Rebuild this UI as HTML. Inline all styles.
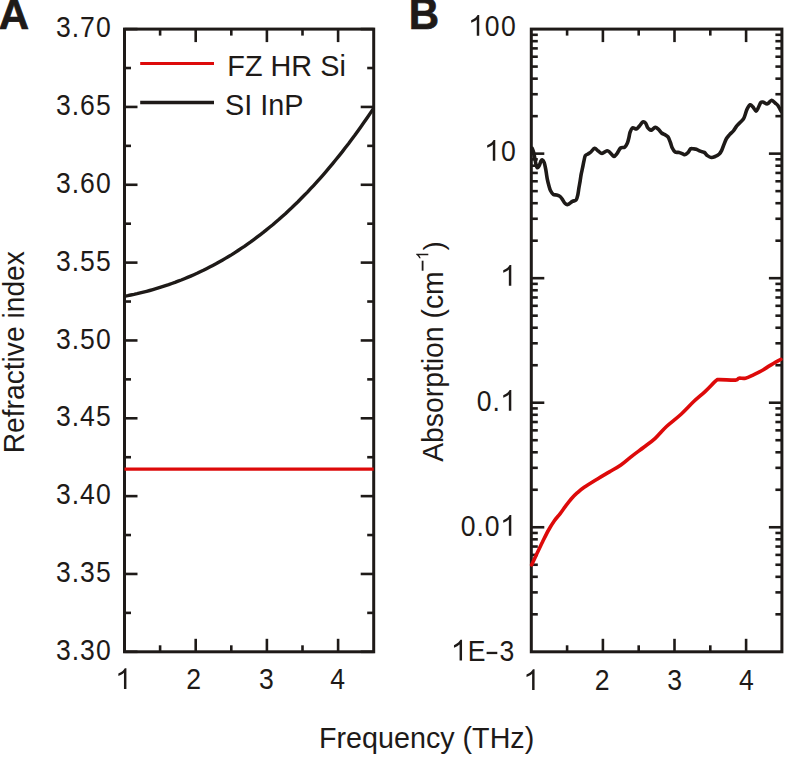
<!DOCTYPE html>
<html><head><meta charset="utf-8"><style>
html,body{margin:0;padding:0;background:#fff;overflow:hidden;}
svg{display:block;}
text{font-family:"Liberation Sans",sans-serif;fill:#1e1a18;}
.g{fill:#1e1a18;}
</style></head><body>
<svg width="785" height="757" viewBox="0 0 785 757">
<rect width="785" height="757" fill="#fff"/>
<g>
<line x1="124.50" y1="651.80" x2="137.50" y2="651.80" stroke="#1e1a18" stroke-width="2.6"/>
<line x1="373.70" y1="651.80" x2="360.70" y2="651.80" stroke="#1e1a18" stroke-width="2.6"/>
<line x1="124.50" y1="612.88" x2="131.00" y2="612.88" stroke="#1e1a18" stroke-width="2.6"/>
<line x1="373.70" y1="612.88" x2="367.20" y2="612.88" stroke="#1e1a18" stroke-width="2.6"/>
<line x1="124.50" y1="573.96" x2="137.50" y2="573.96" stroke="#1e1a18" stroke-width="2.6"/>
<line x1="373.70" y1="573.96" x2="360.70" y2="573.96" stroke="#1e1a18" stroke-width="2.6"/>
<line x1="124.50" y1="535.04" x2="131.00" y2="535.04" stroke="#1e1a18" stroke-width="2.6"/>
<line x1="373.70" y1="535.04" x2="367.20" y2="535.04" stroke="#1e1a18" stroke-width="2.6"/>
<line x1="124.50" y1="496.13" x2="137.50" y2="496.13" stroke="#1e1a18" stroke-width="2.6"/>
<line x1="373.70" y1="496.13" x2="360.70" y2="496.13" stroke="#1e1a18" stroke-width="2.6"/>
<line x1="124.50" y1="457.21" x2="131.00" y2="457.21" stroke="#1e1a18" stroke-width="2.6"/>
<line x1="373.70" y1="457.21" x2="367.20" y2="457.21" stroke="#1e1a18" stroke-width="2.6"/>
<line x1="124.50" y1="418.29" x2="137.50" y2="418.29" stroke="#1e1a18" stroke-width="2.6"/>
<line x1="373.70" y1="418.29" x2="360.70" y2="418.29" stroke="#1e1a18" stroke-width="2.6"/>
<line x1="124.50" y1="379.37" x2="131.00" y2="379.37" stroke="#1e1a18" stroke-width="2.6"/>
<line x1="373.70" y1="379.37" x2="367.20" y2="379.37" stroke="#1e1a18" stroke-width="2.6"/>
<line x1="124.50" y1="340.45" x2="137.50" y2="340.45" stroke="#1e1a18" stroke-width="2.6"/>
<line x1="373.70" y1="340.45" x2="360.70" y2="340.45" stroke="#1e1a18" stroke-width="2.6"/>
<line x1="124.50" y1="301.53" x2="131.00" y2="301.53" stroke="#1e1a18" stroke-width="2.6"/>
<line x1="373.70" y1="301.53" x2="367.20" y2="301.53" stroke="#1e1a18" stroke-width="2.6"/>
<line x1="124.50" y1="262.61" x2="137.50" y2="262.61" stroke="#1e1a18" stroke-width="2.6"/>
<line x1="373.70" y1="262.61" x2="360.70" y2="262.61" stroke="#1e1a18" stroke-width="2.6"/>
<line x1="124.50" y1="223.69" x2="131.00" y2="223.69" stroke="#1e1a18" stroke-width="2.6"/>
<line x1="373.70" y1="223.69" x2="367.20" y2="223.69" stroke="#1e1a18" stroke-width="2.6"/>
<line x1="124.50" y1="184.78" x2="137.50" y2="184.78" stroke="#1e1a18" stroke-width="2.6"/>
<line x1="373.70" y1="184.78" x2="360.70" y2="184.78" stroke="#1e1a18" stroke-width="2.6"/>
<line x1="124.50" y1="145.86" x2="131.00" y2="145.86" stroke="#1e1a18" stroke-width="2.6"/>
<line x1="373.70" y1="145.86" x2="367.20" y2="145.86" stroke="#1e1a18" stroke-width="2.6"/>
<line x1="124.50" y1="106.94" x2="137.50" y2="106.94" stroke="#1e1a18" stroke-width="2.6"/>
<line x1="373.70" y1="106.94" x2="360.70" y2="106.94" stroke="#1e1a18" stroke-width="2.6"/>
<line x1="124.50" y1="68.02" x2="131.00" y2="68.02" stroke="#1e1a18" stroke-width="2.6"/>
<line x1="373.70" y1="68.02" x2="367.20" y2="68.02" stroke="#1e1a18" stroke-width="2.6"/>
<line x1="124.50" y1="29.10" x2="137.50" y2="29.10" stroke="#1e1a18" stroke-width="2.6"/>
<line x1="373.70" y1="29.10" x2="360.70" y2="29.10" stroke="#1e1a18" stroke-width="2.6"/>
<line x1="160.10" y1="651.80" x2="160.10" y2="645.30" stroke="#1e1a18" stroke-width="2.6"/>
<line x1="160.10" y1="29.10" x2="160.10" y2="35.60" stroke="#1e1a18" stroke-width="2.6"/>
<line x1="195.70" y1="651.80" x2="195.70" y2="638.80" stroke="#1e1a18" stroke-width="2.6"/>
<line x1="195.70" y1="29.10" x2="195.70" y2="42.10" stroke="#1e1a18" stroke-width="2.6"/>
<line x1="231.30" y1="651.80" x2="231.30" y2="645.30" stroke="#1e1a18" stroke-width="2.6"/>
<line x1="231.30" y1="29.10" x2="231.30" y2="35.60" stroke="#1e1a18" stroke-width="2.6"/>
<line x1="266.90" y1="651.80" x2="266.90" y2="638.80" stroke="#1e1a18" stroke-width="2.6"/>
<line x1="266.90" y1="29.10" x2="266.90" y2="42.10" stroke="#1e1a18" stroke-width="2.6"/>
<line x1="302.50" y1="651.80" x2="302.50" y2="645.30" stroke="#1e1a18" stroke-width="2.6"/>
<line x1="302.50" y1="29.10" x2="302.50" y2="35.60" stroke="#1e1a18" stroke-width="2.6"/>
<line x1="338.10" y1="651.80" x2="338.10" y2="638.80" stroke="#1e1a18" stroke-width="2.6"/>
<line x1="338.10" y1="29.10" x2="338.10" y2="42.10" stroke="#1e1a18" stroke-width="2.6"/>
<line x1="531.30" y1="614.31" x2="537.80" y2="614.31" stroke="#1e1a18" stroke-width="2.6"/>
<line x1="781.90" y1="614.31" x2="775.40" y2="614.31" stroke="#1e1a18" stroke-width="2.6"/>
<line x1="531.30" y1="592.38" x2="537.80" y2="592.38" stroke="#1e1a18" stroke-width="2.6"/>
<line x1="781.90" y1="592.38" x2="775.40" y2="592.38" stroke="#1e1a18" stroke-width="2.6"/>
<line x1="531.30" y1="576.82" x2="537.80" y2="576.82" stroke="#1e1a18" stroke-width="2.6"/>
<line x1="781.90" y1="576.82" x2="775.40" y2="576.82" stroke="#1e1a18" stroke-width="2.6"/>
<line x1="531.30" y1="564.75" x2="537.80" y2="564.75" stroke="#1e1a18" stroke-width="2.6"/>
<line x1="781.90" y1="564.75" x2="775.40" y2="564.75" stroke="#1e1a18" stroke-width="2.6"/>
<line x1="531.30" y1="554.89" x2="537.80" y2="554.89" stroke="#1e1a18" stroke-width="2.6"/>
<line x1="781.90" y1="554.89" x2="775.40" y2="554.89" stroke="#1e1a18" stroke-width="2.6"/>
<line x1="531.30" y1="546.55" x2="537.80" y2="546.55" stroke="#1e1a18" stroke-width="2.6"/>
<line x1="781.90" y1="546.55" x2="775.40" y2="546.55" stroke="#1e1a18" stroke-width="2.6"/>
<line x1="531.30" y1="539.33" x2="537.80" y2="539.33" stroke="#1e1a18" stroke-width="2.6"/>
<line x1="781.90" y1="539.33" x2="775.40" y2="539.33" stroke="#1e1a18" stroke-width="2.6"/>
<line x1="531.30" y1="532.96" x2="537.80" y2="532.96" stroke="#1e1a18" stroke-width="2.6"/>
<line x1="781.90" y1="532.96" x2="775.40" y2="532.96" stroke="#1e1a18" stroke-width="2.6"/>
<line x1="531.30" y1="527.26" x2="544.30" y2="527.26" stroke="#1e1a18" stroke-width="2.6"/>
<line x1="781.90" y1="527.26" x2="768.90" y2="527.26" stroke="#1e1a18" stroke-width="2.6"/>
<line x1="531.30" y1="489.77" x2="537.80" y2="489.77" stroke="#1e1a18" stroke-width="2.6"/>
<line x1="781.90" y1="489.77" x2="775.40" y2="489.77" stroke="#1e1a18" stroke-width="2.6"/>
<line x1="531.30" y1="467.84" x2="537.80" y2="467.84" stroke="#1e1a18" stroke-width="2.6"/>
<line x1="781.90" y1="467.84" x2="775.40" y2="467.84" stroke="#1e1a18" stroke-width="2.6"/>
<line x1="531.30" y1="452.28" x2="537.80" y2="452.28" stroke="#1e1a18" stroke-width="2.6"/>
<line x1="781.90" y1="452.28" x2="775.40" y2="452.28" stroke="#1e1a18" stroke-width="2.6"/>
<line x1="531.30" y1="440.21" x2="537.80" y2="440.21" stroke="#1e1a18" stroke-width="2.6"/>
<line x1="781.90" y1="440.21" x2="775.40" y2="440.21" stroke="#1e1a18" stroke-width="2.6"/>
<line x1="531.30" y1="430.35" x2="537.80" y2="430.35" stroke="#1e1a18" stroke-width="2.6"/>
<line x1="781.90" y1="430.35" x2="775.40" y2="430.35" stroke="#1e1a18" stroke-width="2.6"/>
<line x1="531.30" y1="422.01" x2="537.80" y2="422.01" stroke="#1e1a18" stroke-width="2.6"/>
<line x1="781.90" y1="422.01" x2="775.40" y2="422.01" stroke="#1e1a18" stroke-width="2.6"/>
<line x1="531.30" y1="414.79" x2="537.80" y2="414.79" stroke="#1e1a18" stroke-width="2.6"/>
<line x1="781.90" y1="414.79" x2="775.40" y2="414.79" stroke="#1e1a18" stroke-width="2.6"/>
<line x1="531.30" y1="408.42" x2="537.80" y2="408.42" stroke="#1e1a18" stroke-width="2.6"/>
<line x1="781.90" y1="408.42" x2="775.40" y2="408.42" stroke="#1e1a18" stroke-width="2.6"/>
<line x1="531.30" y1="402.72" x2="544.30" y2="402.72" stroke="#1e1a18" stroke-width="2.6"/>
<line x1="781.90" y1="402.72" x2="768.90" y2="402.72" stroke="#1e1a18" stroke-width="2.6"/>
<line x1="531.30" y1="365.23" x2="537.80" y2="365.23" stroke="#1e1a18" stroke-width="2.6"/>
<line x1="781.90" y1="365.23" x2="775.40" y2="365.23" stroke="#1e1a18" stroke-width="2.6"/>
<line x1="531.30" y1="343.30" x2="537.80" y2="343.30" stroke="#1e1a18" stroke-width="2.6"/>
<line x1="781.90" y1="343.30" x2="775.40" y2="343.30" stroke="#1e1a18" stroke-width="2.6"/>
<line x1="531.30" y1="327.74" x2="537.80" y2="327.74" stroke="#1e1a18" stroke-width="2.6"/>
<line x1="781.90" y1="327.74" x2="775.40" y2="327.74" stroke="#1e1a18" stroke-width="2.6"/>
<line x1="531.30" y1="315.67" x2="537.80" y2="315.67" stroke="#1e1a18" stroke-width="2.6"/>
<line x1="781.90" y1="315.67" x2="775.40" y2="315.67" stroke="#1e1a18" stroke-width="2.6"/>
<line x1="531.30" y1="305.81" x2="537.80" y2="305.81" stroke="#1e1a18" stroke-width="2.6"/>
<line x1="781.90" y1="305.81" x2="775.40" y2="305.81" stroke="#1e1a18" stroke-width="2.6"/>
<line x1="531.30" y1="297.47" x2="537.80" y2="297.47" stroke="#1e1a18" stroke-width="2.6"/>
<line x1="781.90" y1="297.47" x2="775.40" y2="297.47" stroke="#1e1a18" stroke-width="2.6"/>
<line x1="531.30" y1="290.25" x2="537.80" y2="290.25" stroke="#1e1a18" stroke-width="2.6"/>
<line x1="781.90" y1="290.25" x2="775.40" y2="290.25" stroke="#1e1a18" stroke-width="2.6"/>
<line x1="531.30" y1="283.88" x2="537.80" y2="283.88" stroke="#1e1a18" stroke-width="2.6"/>
<line x1="781.90" y1="283.88" x2="775.40" y2="283.88" stroke="#1e1a18" stroke-width="2.6"/>
<line x1="531.30" y1="278.18" x2="544.30" y2="278.18" stroke="#1e1a18" stroke-width="2.6"/>
<line x1="781.90" y1="278.18" x2="768.90" y2="278.18" stroke="#1e1a18" stroke-width="2.6"/>
<line x1="531.30" y1="240.69" x2="537.80" y2="240.69" stroke="#1e1a18" stroke-width="2.6"/>
<line x1="781.90" y1="240.69" x2="775.40" y2="240.69" stroke="#1e1a18" stroke-width="2.6"/>
<line x1="531.30" y1="218.76" x2="537.80" y2="218.76" stroke="#1e1a18" stroke-width="2.6"/>
<line x1="781.90" y1="218.76" x2="775.40" y2="218.76" stroke="#1e1a18" stroke-width="2.6"/>
<line x1="531.30" y1="203.20" x2="537.80" y2="203.20" stroke="#1e1a18" stroke-width="2.6"/>
<line x1="781.90" y1="203.20" x2="775.40" y2="203.20" stroke="#1e1a18" stroke-width="2.6"/>
<line x1="531.30" y1="191.13" x2="537.80" y2="191.13" stroke="#1e1a18" stroke-width="2.6"/>
<line x1="781.90" y1="191.13" x2="775.40" y2="191.13" stroke="#1e1a18" stroke-width="2.6"/>
<line x1="531.30" y1="181.27" x2="537.80" y2="181.27" stroke="#1e1a18" stroke-width="2.6"/>
<line x1="781.90" y1="181.27" x2="775.40" y2="181.27" stroke="#1e1a18" stroke-width="2.6"/>
<line x1="531.30" y1="172.93" x2="537.80" y2="172.93" stroke="#1e1a18" stroke-width="2.6"/>
<line x1="781.90" y1="172.93" x2="775.40" y2="172.93" stroke="#1e1a18" stroke-width="2.6"/>
<line x1="531.30" y1="165.71" x2="537.80" y2="165.71" stroke="#1e1a18" stroke-width="2.6"/>
<line x1="781.90" y1="165.71" x2="775.40" y2="165.71" stroke="#1e1a18" stroke-width="2.6"/>
<line x1="531.30" y1="159.34" x2="537.80" y2="159.34" stroke="#1e1a18" stroke-width="2.6"/>
<line x1="781.90" y1="159.34" x2="775.40" y2="159.34" stroke="#1e1a18" stroke-width="2.6"/>
<line x1="531.30" y1="153.64" x2="544.30" y2="153.64" stroke="#1e1a18" stroke-width="2.6"/>
<line x1="781.90" y1="153.64" x2="768.90" y2="153.64" stroke="#1e1a18" stroke-width="2.6"/>
<line x1="531.30" y1="116.15" x2="537.80" y2="116.15" stroke="#1e1a18" stroke-width="2.6"/>
<line x1="781.90" y1="116.15" x2="775.40" y2="116.15" stroke="#1e1a18" stroke-width="2.6"/>
<line x1="531.30" y1="94.22" x2="537.80" y2="94.22" stroke="#1e1a18" stroke-width="2.6"/>
<line x1="781.90" y1="94.22" x2="775.40" y2="94.22" stroke="#1e1a18" stroke-width="2.6"/>
<line x1="531.30" y1="78.66" x2="537.80" y2="78.66" stroke="#1e1a18" stroke-width="2.6"/>
<line x1="781.90" y1="78.66" x2="775.40" y2="78.66" stroke="#1e1a18" stroke-width="2.6"/>
<line x1="531.30" y1="66.59" x2="537.80" y2="66.59" stroke="#1e1a18" stroke-width="2.6"/>
<line x1="781.90" y1="66.59" x2="775.40" y2="66.59" stroke="#1e1a18" stroke-width="2.6"/>
<line x1="531.30" y1="56.73" x2="537.80" y2="56.73" stroke="#1e1a18" stroke-width="2.6"/>
<line x1="781.90" y1="56.73" x2="775.40" y2="56.73" stroke="#1e1a18" stroke-width="2.6"/>
<line x1="531.30" y1="48.39" x2="537.80" y2="48.39" stroke="#1e1a18" stroke-width="2.6"/>
<line x1="781.90" y1="48.39" x2="775.40" y2="48.39" stroke="#1e1a18" stroke-width="2.6"/>
<line x1="531.30" y1="41.17" x2="537.80" y2="41.17" stroke="#1e1a18" stroke-width="2.6"/>
<line x1="781.90" y1="41.17" x2="775.40" y2="41.17" stroke="#1e1a18" stroke-width="2.6"/>
<line x1="531.30" y1="34.80" x2="537.80" y2="34.80" stroke="#1e1a18" stroke-width="2.6"/>
<line x1="781.90" y1="34.80" x2="775.40" y2="34.80" stroke="#1e1a18" stroke-width="2.6"/>
<line x1="567.10" y1="651.80" x2="567.10" y2="645.30" stroke="#1e1a18" stroke-width="2.6"/>
<line x1="567.10" y1="29.10" x2="567.10" y2="35.60" stroke="#1e1a18" stroke-width="2.6"/>
<line x1="602.90" y1="651.80" x2="602.90" y2="638.80" stroke="#1e1a18" stroke-width="2.6"/>
<line x1="602.90" y1="29.10" x2="602.90" y2="42.10" stroke="#1e1a18" stroke-width="2.6"/>
<line x1="638.70" y1="651.80" x2="638.70" y2="645.30" stroke="#1e1a18" stroke-width="2.6"/>
<line x1="638.70" y1="29.10" x2="638.70" y2="35.60" stroke="#1e1a18" stroke-width="2.6"/>
<line x1="674.50" y1="651.80" x2="674.50" y2="638.80" stroke="#1e1a18" stroke-width="2.6"/>
<line x1="674.50" y1="29.10" x2="674.50" y2="42.10" stroke="#1e1a18" stroke-width="2.6"/>
<line x1="710.30" y1="651.80" x2="710.30" y2="645.30" stroke="#1e1a18" stroke-width="2.6"/>
<line x1="710.30" y1="29.10" x2="710.30" y2="35.60" stroke="#1e1a18" stroke-width="2.6"/>
<line x1="746.10" y1="651.80" x2="746.10" y2="638.80" stroke="#1e1a18" stroke-width="2.6"/>
<line x1="746.10" y1="29.10" x2="746.10" y2="42.10" stroke="#1e1a18" stroke-width="2.6"/>
</g>
<rect x="124.5" y="29.1" width="249.20" height="622.70" fill="none" stroke="#1e1a18" stroke-width="3.0"/>
<rect x="531.3" y="29.1" width="250.60" height="622.70" fill="none" stroke="#1e1a18" stroke-width="3.0"/>
<line x1="124.5" y1="469.1" x2="373.7" y2="469.1" stroke="#dd0a0a" stroke-width="3.4"/>
<polyline points="124.5,296.3 127.7,295.7 130.8,295.0 134.0,294.4 137.1,293.7 140.3,292.9 143.4,292.1 146.6,291.3 149.7,290.5 152.9,289.6 156.0,288.7 159.2,287.7 162.4,286.7 165.5,285.7 168.7,284.7 171.8,283.5 175.0,282.4 178.1,281.2 181.3,280.0 184.4,278.7 187.6,277.4 190.7,276.1 193.9,274.7 197.1,273.3 200.2,271.8 203.4,270.3 206.5,268.7 209.7,267.1 212.8,265.5 216.0,263.8 219.1,262.0 222.3,260.2 225.4,258.4 228.6,256.5 231.8,254.6 234.9,252.6 238.1,250.5 241.2,248.4 244.4,246.3 247.5,244.1 250.7,241.9 253.8,239.6 257.0,237.2 260.1,234.8 263.3,232.4 266.4,229.9 269.6,227.3 272.8,224.7 275.9,222.0 279.1,219.3 282.2,216.5 285.4,213.7 288.5,210.7 291.7,207.8 294.8,204.8 298.0,201.7 301.1,198.5 304.3,195.3 307.5,192.1 310.6,188.7 313.8,185.3 316.9,181.9 320.1,178.3 323.2,174.8 326.4,171.1 329.5,167.4 332.7,163.6 335.8,159.8 339.0,155.9 342.2,151.9 345.3,147.8 348.5,143.7 351.6,139.5 354.8,135.3 357.9,130.9 361.1,126.5 364.2,122.1 367.4,117.5 370.5,112.9 373.7,108.2" fill="none" stroke="#1e1a18" stroke-width="3.4" stroke-linejoin="round"/>
<path d="M532.20,148.30 C532.42,148.92 533.05,150.30 533.50,152.00 C533.95,153.70 534.50,156.50 534.90,158.50 C535.30,160.50 535.52,162.47 535.90,164.00 C536.28,165.53 536.67,167.38 537.20,167.70 C537.73,168.02 538.48,166.98 539.10,165.90 C539.72,164.82 540.37,162.20 540.90,161.20 C541.43,160.20 541.75,159.67 542.30,159.90 C542.85,160.13 543.65,161.15 544.20,162.60 C544.75,164.05 545.22,166.67 545.60,168.60 C545.98,170.53 546.20,172.35 546.50,174.20 C546.80,176.05 547.02,177.85 547.40,179.70 C547.78,181.55 548.27,183.45 548.80,185.30 C549.33,187.15 549.83,189.27 550.60,190.80 C551.37,192.33 552.40,193.80 553.40,194.50 C554.40,195.20 555.52,194.68 556.60,195.00 C557.68,195.32 558.97,195.72 559.90,196.40 C560.83,197.08 561.35,197.95 562.20,199.10 C563.05,200.25 564.08,202.38 565.00,203.30 C565.92,204.22 566.47,204.92 567.70,204.60 C568.93,204.28 571.00,202.17 572.40,201.40 C573.80,200.63 575.18,201.15 576.10,200.00 C577.02,198.85 577.43,196.50 577.90,194.50 C578.37,192.50 578.52,190.32 578.90,188.00 C579.28,185.68 579.82,182.90 580.20,180.60 C580.58,178.30 580.80,176.35 581.20,174.20 C581.60,172.05 582.15,169.87 582.60,167.70 C583.05,165.53 583.45,163.20 583.90,161.20 C584.35,159.20 584.60,156.92 585.30,155.70 C586.00,154.48 587.17,154.52 588.10,153.90 C589.03,153.28 589.82,152.93 590.90,152.00 C591.98,151.07 593.37,148.45 594.60,148.30 C595.83,148.15 597.07,150.25 598.30,151.10 C599.53,151.95 600.53,153.45 602.00,153.40 C603.47,153.35 605.72,150.90 607.10,150.80 C608.48,150.70 609.17,151.87 610.30,152.80 C611.43,153.73 612.78,156.27 613.90,156.40 C615.02,156.53 615.88,155.00 617.00,153.60 C618.12,152.20 619.33,149.07 620.60,148.00 C621.87,146.93 623.48,147.98 624.60,147.20 C625.72,146.42 626.58,144.88 627.30,143.30 C628.02,141.72 628.43,139.55 628.90,137.70 C629.37,135.85 629.50,133.85 630.10,132.20 C630.70,130.55 631.43,128.33 632.50,127.80 C633.57,127.27 635.32,129.33 636.50,129.00 C637.68,128.67 638.55,126.98 639.60,125.80 C640.65,124.62 641.80,122.35 642.80,121.90 C643.80,121.45 644.82,122.18 645.60,123.10 C646.38,124.02 646.93,126.42 647.50,127.40 C648.07,128.38 648.37,128.53 649.00,129.00 C649.63,129.47 650.25,130.47 651.30,130.20 C652.35,129.93 654.10,127.53 655.30,127.40 C656.50,127.27 657.45,128.47 658.50,129.40 C659.55,130.33 660.55,132.13 661.60,133.00 C662.65,133.87 663.73,133.95 664.80,134.60 C665.87,135.25 667.07,135.58 668.00,136.90 C668.93,138.22 669.68,140.65 670.40,142.50 C671.12,144.35 671.52,146.42 672.30,148.00 C673.08,149.58 673.97,151.27 675.10,152.00 C676.23,152.73 677.92,152.13 679.10,152.40 C680.28,152.67 681.28,153.20 682.20,153.60 C683.12,154.00 683.67,154.93 684.60,154.80 C685.53,154.67 686.80,153.80 687.80,152.80 C688.80,151.80 689.70,149.47 690.60,148.80 C691.50,148.13 692.25,148.73 693.20,148.80 C694.15,148.87 695.12,148.80 696.30,149.20 C697.48,149.60 698.97,150.67 700.30,151.20 C701.63,151.73 703.12,151.67 704.30,152.40 C705.48,153.13 706.22,154.75 707.40,155.60 C708.58,156.45 710.07,157.37 711.40,157.50 C712.73,157.63 714.08,156.98 715.40,156.40 C716.72,155.82 718.25,155.00 719.30,154.00 C720.35,153.00 720.90,152.05 721.70,150.40 C722.50,148.75 723.30,146.08 724.10,144.10 C724.90,142.12 725.58,140.08 726.50,138.50 C727.42,136.92 728.42,135.92 729.60,134.60 C730.78,133.28 732.40,132.07 733.60,130.60 C734.80,129.13 735.58,127.28 736.80,125.80 C738.02,124.32 739.77,122.88 740.90,121.70 C742.03,120.52 742.82,120.08 743.60,118.70 C744.38,117.32 745.00,115.05 745.60,113.40 C746.20,111.75 746.43,110.23 747.20,108.80 C747.97,107.37 749.27,105.13 750.20,104.80 C751.13,104.47 751.82,105.75 752.80,106.80 C753.78,107.85 755.17,110.98 756.10,111.10 C757.03,111.22 757.62,108.93 758.40,107.50 C759.18,106.07 759.97,103.38 760.80,102.50 C761.63,101.62 762.30,101.98 763.40,102.20 C764.50,102.42 766.02,104.13 767.40,103.80 C768.78,103.47 770.38,100.30 771.70,100.20 C773.02,100.10 774.27,102.32 775.30,103.20 C776.33,104.08 776.92,104.13 777.90,105.50 C778.88,106.87 780.65,110.42 781.20,111.40" fill="none" stroke="#1e1a18" stroke-width="3.6" stroke-linejoin="round" stroke-linecap="round"/>
<path d="M531.60,564.90 C532.42,563.17 534.68,558.32 536.50,554.50 C538.32,550.68 540.53,546.00 542.50,542.00 C544.47,538.00 546.35,534.00 548.30,530.50 C550.25,527.00 552.25,523.78 554.20,521.00 C556.15,518.22 558.07,516.33 560.00,513.80 C561.93,511.27 563.87,508.35 565.80,505.80 C567.73,503.25 569.67,500.68 571.60,498.50 C573.53,496.32 575.30,494.57 577.40,492.70 C579.50,490.83 580.78,489.63 584.20,487.30 C587.62,484.97 593.70,481.27 597.90,478.70 C602.10,476.13 605.57,474.18 609.40,471.90 C613.23,469.62 617.08,467.68 620.90,465.00 C624.72,462.32 628.48,458.77 632.30,455.80 C636.12,452.83 639.98,450.12 643.80,447.20 C647.62,444.28 651.42,441.75 655.20,438.30 C658.98,434.85 662.33,430.38 666.50,426.50 C670.67,422.62 675.62,419.20 680.20,415.00 C684.78,410.80 689.82,405.23 694.00,401.30 C698.18,397.37 701.63,394.83 705.30,391.40 C708.97,387.97 713.67,382.67 716.00,380.70 C718.33,378.73 716.05,379.70 719.30,379.60 C722.55,379.50 732.22,380.33 735.50,380.10 C738.78,379.87 737.33,378.52 739.00,378.20 C740.67,377.88 743.02,378.80 745.50,378.20 C747.98,377.60 751.13,375.88 753.90,374.60 C756.67,373.32 759.38,372.03 762.10,370.50 C764.82,368.97 767.07,367.27 770.20,365.40 C773.33,363.53 779.12,360.32 780.90,359.30" fill="none" stroke="#dd0a0a" stroke-width="3.6" stroke-linejoin="round" stroke-linecap="round"/>
<line x1="140.2" y1="63.5" x2="214" y2="63.5" stroke="#dd0a0a" stroke-width="3.2"/>
<line x1="140.2" y1="102.5" x2="214" y2="102.5" stroke="#1e1a18" stroke-width="3.4"/>
<text transform="translate(63.29,37.20) scale(0.95,1.08)" font-size="28" text-anchor="middle">3</text>
<text transform="translate(75.32,37.20) scale(0.95,1.08)" font-size="28" text-anchor="middle">.</text>
<text transform="translate(87.35,37.20) scale(0.95,1.08)" font-size="28" text-anchor="middle">7</text>
<text transform="translate(103.38,37.20) scale(0.95,1.08)" font-size="28" text-anchor="middle">0</text>
<text transform="translate(63.29,115.05) scale(0.95,1.08)" font-size="28" text-anchor="middle">3</text>
<text transform="translate(75.32,115.05) scale(0.95,1.08)" font-size="28" text-anchor="middle">.</text>
<text transform="translate(87.35,115.05) scale(0.95,1.08)" font-size="28" text-anchor="middle">6</text>
<text transform="translate(103.38,115.05) scale(0.95,1.08)" font-size="28" text-anchor="middle">5</text>
<text transform="translate(63.29,192.90) scale(0.95,1.08)" font-size="28" text-anchor="middle">3</text>
<text transform="translate(75.32,192.90) scale(0.95,1.08)" font-size="28" text-anchor="middle">.</text>
<text transform="translate(87.35,192.90) scale(0.95,1.08)" font-size="28" text-anchor="middle">6</text>
<text transform="translate(103.38,192.90) scale(0.95,1.08)" font-size="28" text-anchor="middle">0</text>
<text transform="translate(63.29,270.75) scale(0.95,1.08)" font-size="28" text-anchor="middle">3</text>
<text transform="translate(75.32,270.75) scale(0.95,1.08)" font-size="28" text-anchor="middle">.</text>
<text transform="translate(87.35,270.75) scale(0.95,1.08)" font-size="28" text-anchor="middle">5</text>
<text transform="translate(103.38,270.75) scale(0.95,1.08)" font-size="28" text-anchor="middle">5</text>
<text transform="translate(63.29,348.60) scale(0.95,1.08)" font-size="28" text-anchor="middle">3</text>
<text transform="translate(75.32,348.60) scale(0.95,1.08)" font-size="28" text-anchor="middle">.</text>
<text transform="translate(87.35,348.60) scale(0.95,1.08)" font-size="28" text-anchor="middle">5</text>
<text transform="translate(103.38,348.60) scale(0.95,1.08)" font-size="28" text-anchor="middle">0</text>
<text transform="translate(63.29,426.45) scale(0.95,1.08)" font-size="28" text-anchor="middle">3</text>
<text transform="translate(75.32,426.45) scale(0.95,1.08)" font-size="28" text-anchor="middle">.</text>
<text transform="translate(87.35,426.45) scale(0.95,1.08)" font-size="28" text-anchor="middle">4</text>
<text transform="translate(103.38,426.45) scale(0.95,1.08)" font-size="28" text-anchor="middle">5</text>
<text transform="translate(63.29,504.30) scale(0.95,1.08)" font-size="28" text-anchor="middle">3</text>
<text transform="translate(75.32,504.30) scale(0.95,1.08)" font-size="28" text-anchor="middle">.</text>
<text transform="translate(87.35,504.30) scale(0.95,1.08)" font-size="28" text-anchor="middle">4</text>
<text transform="translate(103.38,504.30) scale(0.95,1.08)" font-size="28" text-anchor="middle">0</text>
<text transform="translate(63.29,582.15) scale(0.95,1.08)" font-size="28" text-anchor="middle">3</text>
<text transform="translate(75.32,582.15) scale(0.95,1.08)" font-size="28" text-anchor="middle">.</text>
<text transform="translate(87.35,582.15) scale(0.95,1.08)" font-size="28" text-anchor="middle">3</text>
<text transform="translate(103.38,582.15) scale(0.95,1.08)" font-size="28" text-anchor="middle">5</text>
<text transform="translate(63.29,660.00) scale(0.95,1.08)" font-size="28" text-anchor="middle">3</text>
<text transform="translate(75.32,660.00) scale(0.95,1.08)" font-size="28" text-anchor="middle">.</text>
<text transform="translate(87.35,660.00) scale(0.95,1.08)" font-size="28" text-anchor="middle">3</text>
<text transform="translate(103.38,660.00) scale(0.95,1.08)" font-size="28" text-anchor="middle">0</text>
<path class="g" d="M790 0L610 0L610 1147Q545 1085 439 1023Q333 961 200 915L200 1093Q399 1175 512 1276Q625 1377 672 1472L790 1472Z" transform="translate(123.40,689.00) scale(0.01367,-0.01410) translate(-569.3,0)"/>
<path class="g" d="M790 0L610 0L610 1147Q545 1085 439 1023Q333 961 200 915L200 1093Q399 1175 512 1276Q625 1377 672 1472L790 1472Z" transform="translate(531.55,690.00) scale(0.01367,-0.01410) translate(-569.3,0)"/>
<text transform="translate(193.75,689.00) scale(0.95,1.08)" font-size="28" text-anchor="middle">2</text>
<text transform="translate(602.15,690.00) scale(0.95,1.08)" font-size="28" text-anchor="middle">2</text>
<text transform="translate(266.40,689.00) scale(0.95,1.08)" font-size="28" text-anchor="middle">3</text>
<text transform="translate(674.65,690.00) scale(0.95,1.08)" font-size="28" text-anchor="middle">3</text>
<text transform="translate(337.60,689.00) scale(0.95,1.08)" font-size="28" text-anchor="middle">4</text>
<text transform="translate(746.30,690.00) scale(0.95,1.08)" font-size="28" text-anchor="middle">4</text>
<path class="g" d="M790 0L610 0L610 1147Q545 1085 439 1023Q333 961 200 915L200 1093Q399 1175 512 1276Q625 1377 672 1472L790 1472Z" transform="translate(476.21,35.75) scale(0.01367,-0.01410) translate(-569.3,0)"/>
<text transform="translate(492.25,35.75) scale(0.95,1.08)" font-size="28" text-anchor="middle">0</text>
<text transform="translate(508.28,35.75) scale(0.95,1.08)" font-size="28" text-anchor="middle">0</text>
<path class="g" d="M790 0L610 0L610 1147Q545 1085 439 1023Q333 961 200 915L200 1093Q399 1175 512 1276Q625 1377 672 1472L790 1472Z" transform="translate(492.25,160.73) scale(0.01367,-0.01410) translate(-569.3,0)"/>
<text transform="translate(508.28,160.73) scale(0.95,1.08)" font-size="28" text-anchor="middle">0</text>
<path class="g" d="M790 0L610 0L610 1147Q545 1085 439 1023Q333 961 200 915L200 1093Q399 1175 512 1276Q625 1377 672 1472L790 1472Z" transform="translate(508.28,285.71) scale(0.01367,-0.01410) translate(-569.3,0)"/>
<text transform="translate(484.23,410.69) scale(0.95,1.08)" font-size="28" text-anchor="middle">0</text>
<text transform="translate(496.26,410.69) scale(0.95,1.08)" font-size="28" text-anchor="middle">.</text>
<path class="g" d="M790 0L610 0L610 1147Q545 1085 439 1023Q333 961 200 915L200 1093Q399 1175 512 1276Q625 1377 672 1472L790 1472Z" transform="translate(508.28,410.69) scale(0.01367,-0.01410) translate(-569.3,0)"/>
<text transform="translate(468.19,535.67) scale(0.95,1.08)" font-size="28" text-anchor="middle">0</text>
<text transform="translate(480.22,535.67) scale(0.95,1.08)" font-size="28" text-anchor="middle">.</text>
<text transform="translate(492.25,535.67) scale(0.95,1.08)" font-size="28" text-anchor="middle">0</text>
<path class="g" d="M790 0L610 0L610 1147Q545 1085 439 1023Q333 961 200 915L200 1093Q399 1175 512 1276Q625 1377 672 1472L790 1472Z" transform="translate(508.28,535.67) scale(0.01367,-0.01410) translate(-569.3,0)"/>
<path class="g" d="M790 0L610 0L610 1147Q545 1085 439 1023Q333 961 200 915L200 1093Q399 1175 512 1276Q625 1377 672 1472L790 1472Z" transform="translate(459.02,660.60) scale(0.01367,-0.01410) translate(-569.3,0)"/>
<text transform="translate(476.65,660.60) scale(0.95,1.08)" font-size="28" text-anchor="middle">E</text>
<rect x="486.6" y="651.8" width="10.7" height="2.3" fill="#1e1a18"/>
<text transform="translate(507.02,660.60) scale(0.95,1.08)" font-size="28" text-anchor="middle">3</text>
<text transform="translate(227.30,75.80) scale(1.03,1.05)" font-size="28" text-anchor="start">FZ HR Si</text>
<text transform="translate(225.00,114.60) scale(1.03,1.05)" font-size="28" text-anchor="start">SI InP</text>
<text transform="translate(319.00,747.60) scale(1.025,1.05)" font-size="28" text-anchor="start">Frequency (THz)</text>
<text transform="translate(23.60,453.25) rotate(-90) scale(1.007,1.05)" font-size="28" text-anchor="start">Refractive index</text>
<text transform="translate(442.80,461.80) rotate(-90) scale(1.012,1.05)" font-size="28" text-anchor="start">Absorption (cm</text>
<text transform="translate(442.80,250.60) rotate(-90) scale(1.0,0.97)" font-size="28" text-anchor="start">)</text>
<rect x="421.7" y="260.7" width="1.8" height="10" fill="#1e1a18"/>
<path class="g" d="M790 0L610 0L610 1147Q545 1085 439 1023Q333 961 200 915L200 1093Q399 1175 512 1276Q625 1377 672 1472L790 1472Z" transform="translate(428.3,259.9) rotate(-90) scale(0.00781,-0.00820)"/>
<text transform="translate(-1.30,29.30) scale(1.0,1.03)" font-size="42" text-anchor="start" font-weight="bold" stroke="#1e1a18" stroke-width="0.7">A</text>
<text transform="translate(408.80,29.30) scale(1.0,1.05)" font-size="42" text-anchor="start" font-weight="bold" stroke="#1e1a18" stroke-width="0.7">B</text>

</svg>
</body></html>
